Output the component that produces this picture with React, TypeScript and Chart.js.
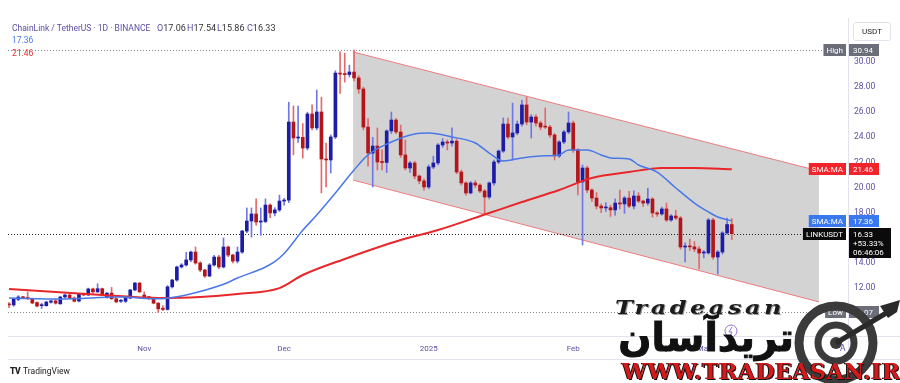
import React, { useEffect, useRef } from "react";
import { Chart, registerables } from "chart.js";
Chart.register(...registerables);

// ---- data ----
const startDate = "2024-10-03";
const opens = [
  10.68, 10.66, 11.1, 11.27, 11.25, 11.15, 10.85, 10.6, 10.6, 10.88, 10.98, 10.75, 11.29, 11.45, 11.21, 10.97, 11.5, 11.45, 11.93, 11.7,
  11.95, 11.3, 11.6, 11.15, 10.95, 10.95, 11.2, 11.85, 12.4, 11.45, 11.32, 11.18, 10.8, 10.4,
  10.3, 12.1, 12.64, 13.68, 13.84, 14.24, 14.87, 14.0, 13.44, 12.96, 13.84, 14.47, 13.68, 15.27, 14.63, 14.15, 14.87, 16.54, 17.34, 17.9,
  17.26, 17.3, 18.61, 17.98, 18.22, 18.93, 19.0, 25.22, 23.95, 24.0, 23.15, 25.86, 24.75, 26.02, 22.28, 22.2, 24.03, 29.12, 29.04, 29.0,
  29.2, 28.73, 27.85, 24.82, 22.75, 23.31, 22.04, 22.0, 24.51, 25.38, 24.43, 22.6, 21.56, 21.96, 20.92, 20.53, 20.05, 21.64, 21.96, 23.39,
  23.63, 23.55, 23.7, 21.24, 20.37, 19.57, 20.37, 20.2, 19.73, 19.25, 20.37, 22.04, 22.91, 25.06, 24.03, 24.35, 25.06, 26.58, 25.22, 25.62,
  25.14, 24.9, 24.82, 24.19, 22.52, 23.63, 24.43, 25.14, 22.99, 20.45, 21.56, 19.81, 19.17, 18.53, 18.38, 18.4, 18.22, 18.77, 18.7, 19.17,
  18.53, 19.33, 18.93, 18.77, 19.09, 17.98, 17.9, 18.3, 17.42, 17.74, 17.58, 15.27, 15.3, 15.28, 15.11, 14.79, 14.8, 17.42, 14.47, 14.87,
  16.39, 17.06,
];
const highs = [
  10.85, 11.2, 11.4, 11.35, 11.69, 11.2, 10.9, 10.8, 10.95, 11.05, 11.1, 11.35, 11.55, 11.5, 11.3, 11.55, 11.6, 12.0, 12.0, 12.35,
  12.0, 11.65, 12.05, 11.2, 11.1, 11.25, 11.9, 12.45, 12.45, 11.7, 11.35, 11.25, 10.85, 10.6,
  12.2, 12.7, 13.75, 13.95, 14.85, 14.95, 15.27, 14.1, 13.5, 13.95, 14.6, 14.6, 15.99, 15.35, 14.7, 15.27, 16.6, 18.38, 18.38, 19.1,
  18.38, 19.1, 18.7, 18.4, 19.4, 19.15, 26.8, 26.5, 26.5, 25.1, 26.0, 26.58, 27.77, 27.2, 23.55, 24.2, 29.3, 30.8, 30.7, 29.75,
  30.94, 28.9, 28.0, 25.5, 24.0, 24.75, 23.0, 24.6, 26.02, 25.5, 24.98, 23.79, 22.1, 22.1, 21.0, 20.7, 21.8, 22.5, 23.5, 23.9,
  23.8, 24.75, 23.85, 21.4, 20.45, 20.5, 20.55, 20.3, 19.85, 20.45, 22.2, 23.0, 25.54, 25.54, 26.73, 25.3, 26.97, 27.2, 25.8, 25.8,
  25.3, 26.34, 24.95, 24.3, 23.75, 24.55, 26.02, 25.3, 23.1, 21.8, 21.7, 19.9, 19.6, 18.7, 18.8, 18.6, 19.1, 19.8, 19.3, 19.7,
  19.75, 19.6, 19.0, 19.95, 19.2, 18.1, 18.45, 18.77, 17.85, 18.2, 17.7, 15.6, 15.9, 15.7, 15.3, 15.0, 17.55, 17.55, 15.0, 16.5,
  17.58, 17.54,
];
const lows = [
  10.45, 10.55, 11.0, 11.15, 11.1, 10.75, 10.5, 10.38, 10.55, 10.8, 10.72, 10.7, 11.2, 11.15, 10.9, 10.9, 11.4, 11.4, 11.6, 11.65,
  11.4, 11.2, 11.1, 10.85, 10.85, 10.85, 11.15, 11.8, 11.65, 11.2, 11.1, 10.75, 10.07, 10.2,
  10.25, 12.0, 12.55, 13.6, 13.75, 14.1, 13.9, 13.3, 12.85, 12.9, 13.75, 13.55, 13.6, 14.5, 14.0, 14.0, 14.75, 16.4, 16.05, 17.0,
  16.2, 17.2, 17.6, 17.75, 18.1, 18.6, 18.8, 22.6, 23.6, 22.35, 23.0, 24.6, 24.6, 19.57, 20.05, 21.16, 23.9, 27.5, 28.4, 28.8,
  28.5, 27.5, 24.6, 21.7, 20.05, 21.4, 21.4, 21.2, 24.3, 24.3, 22.4, 21.4, 21.2, 20.7, 20.3, 19.8, 19.9, 21.5, 21.8, 23.2,
  23.0, 23.3, 21.1, 20.2, 19.4, 19.5, 20.0, 19.6, 17.9, 19.1, 20.2, 21.9, 22.8, 23.9, 22.2, 24.2, 24.9, 25.0, 23.95, 24.9,
  24.6, 24.7, 24.0, 22.2, 22.4, 23.5, 24.3, 22.8, 19.41, 15.43, 19.6, 18.9, 18.3, 18.0, 18.1, 17.7, 17.8, 18.3, 17.95, 18.4,
  18.3, 18.8, 18.5, 18.6, 17.65, 17.7, 17.8, 17.3, 17.3, 17.45, 15.1, 14.08, 15.0, 14.9, 13.52, 14.4, 14.7, 14.3, 13.12, 14.7,
  16.3, 15.86,
];
const closes = [
  10.66, 11.13, 11.29, 11.23, 11.15, 10.81, 10.57, 10.62, 10.89, 10.98, 10.8, 11.29, 11.45, 11.21, 10.95, 11.5, 11.45, 11.93, 11.7, 11.95,
  11.45, 11.6, 11.15, 10.9, 10.98, 11.2, 11.85, 12.4, 11.7, 11.32, 11.18, 10.8, 10.35, 10.3,
  12.1, 12.64, 13.68, 13.84, 14.24, 14.87, 14.0, 13.44, 12.96, 13.84, 14.47, 13.68, 15.27, 14.63, 14.15, 14.87, 16.54, 17.34, 17.9, 17.26,
  17.3, 18.61, 17.98, 18.22, 18.93, 19.0, 25.22, 23.95, 24.0, 23.15, 25.86, 24.75, 26.02, 22.28, 22.2, 24.03, 29.12, 29.04, 29.0, 29.2,
  28.73, 27.85, 24.82, 22.75, 23.31, 22.04, 22.0, 24.51, 25.38, 24.43, 22.6, 21.56, 21.96, 20.92, 20.53, 20.05, 21.64, 21.96, 23.39, 23.63,
  23.55, 23.7, 21.24, 20.37, 19.57, 20.37, 20.2, 19.73, 19.25, 20.37, 22.04, 22.91, 25.06, 24.03, 24.35, 25.06, 26.58, 25.22, 25.62, 25.14,
  24.82, 24.82, 24.19, 22.52, 23.63, 24.43, 25.14, 22.99, 20.45, 21.56, 19.81, 19.17, 18.53, 18.38, 18.4, 18.22, 18.77, 18.7, 19.17, 18.53,
  19.33, 18.93, 18.77, 19.09, 17.98, 17.9, 18.3, 17.42, 17.74, 17.58, 15.27, 15.3, 15.28, 15.11, 14.79, 14.8, 17.42, 14.47, 14.87, 16.39,
  17.06, 16.33,
];

// SMA values at given candle indexes
const sma20At = [0, 11, 24, 32, 34, 38, 46, 49, 55, 57, 59, 63, 66, 70, 74, 77, 82, 87, 90, 95, 100, 103, 106, 110, 114, 118, 120, 124, 127, 129, 133, 135, 139, 143, 147, 150, 152, 155];
const sma20 = [11.21, 11.13, 11.29, 11.15, 11.2, 11.45, 12.3, 12.8, 13.68, 14.1, 14.75, 16.6, 17.82, 19.57, 21.4, 22.6, 23.63, 24.27, 24.35, 24.03, 23.55, 22.75, 22.12, 22.36, 22.52, 22.6, 23.0, 22.99, 22.6, 22.36, 22.28, 21.8, 21.24, 19.97, 18.77, 18.06, 17.66, 17.36];
const sma200At = [0, 20, 32, 41, 49, 58, 63, 72, 84, 92, 103, 110, 118, 125, 133, 140, 147, 155];
const sma200 = [11.93, 11.45, 11.21, 11.29, 11.53, 12.0, 13.04, 14.32, 15.83, 16.62, 17.98, 18.85, 19.81, 20.76, 21.24, 21.56, 21.56, 21.46];

const priceTicks = [10, 12, 14, 16, 18, 20, 22, 24, 26, 28, 30];
const monthNames = ["Jan", "Feb", "Mar", "Apr", "May", "Jun", "Jul", "Aug", "Sep", "Oct", "Nov", "Dec"];

// drawn channel (candle index, price)
const channelX = [73.8, 173.7];
const channelTop = [30.8, 21.32];
const channelBottom = [20.6, 10.9];

const sessionHigh = 30.94;
const sessionLow = 10.07;
const lastPrice = 16.33;
const lastChange = "+53.33%";
const countdown = "06:46:06";
const sma20Last = 17.36;
const sma200Last = 21.46;
const ohlcLabels = ["O", "H", "L", "C"];
const ohlcValues = ["17.06", "17.54", "15.86", "16.33"];

const UP = "#1c1ca6";
const DOWN = "#b3161a";
const UP_WICK = "#6f78e3";
const DOWN_WICK = "#e26a6a";
const AXIS_TEXT = "#5b4fa3";
const FONT = "Roboto, 'Open Sans', sans-serif";

function buildDates(): Date[] {
  const s = new Date(startDate + "T00:00:00Z");
  return opens.map((_, i) => new Date(s.getTime() + i * 86400000));
}

const overlayPlugin = {
  id: "tvOverlay",
  beforeDatasetsDraw(chart: any) {
    const { ctx, chartArea, scales } = chart;
    const xs = scales.x, ys = scales.y;
    ctx.save();
    const x1 = xs.getPixelForValue(channelX[0]);
    const x2 = xs.getPixelForValue(channelX[1]);
    const t1 = ys.getPixelForValue(channelTop[0]);
    const t2 = ys.getPixelForValue(channelTop[1]);
    const b1 = ys.getPixelForValue(channelBottom[0]);
    const b2 = ys.getPixelForValue(channelBottom[1]);
    ctx.beginPath();
    ctx.moveTo(x1, t1); ctx.lineTo(x2, t2); ctx.lineTo(x2, b2); ctx.lineTo(x1, b1); ctx.closePath();
    ctx.fillStyle = "rgba(150,150,150,0.42)";
    ctx.fill();
    ctx.strokeStyle = "#ee7b7b";
    ctx.lineWidth = 1;
    ctx.beginPath(); ctx.moveTo(x1, t1); ctx.lineTo(x2, t2); ctx.stroke();
    ctx.beginPath(); ctx.moveTo(x1, b1); ctx.lineTo(x2, b2); ctx.stroke();
    const dotted = (v: number, color: string) => {
      const y = Math.round(ys.getPixelForValue(v)) + 0.5;
      ctx.beginPath();
      ctx.setLineDash([1, 2]);
      ctx.strokeStyle = color;
      ctx.moveTo(chartArea.left, y); ctx.lineTo(chartArea.right, y);
      ctx.stroke();
      ctx.setLineDash([]);
    };
    dotted(sessionHigh, "#8a8a8a");
    dotted(sessionLow, "#8a8a8a");
    dotted(lastPrice, "#222");
    ctx.restore();
  },
  afterDraw(chart: any) {
    const { ctx, chartArea, scales } = chart;
    const ys = scales.y;
    ctx.save();
    ctx.strokeStyle = "#e3e1ee";
    ctx.lineWidth = 1;
    ctx.beginPath();
    ctx.moveTo(chartArea.left, 359.5); ctx.lineTo(900, 359.5);
    ctx.moveTo(chartArea.right + 0.5, 18); ctx.lineTo(chartArea.right + 0.5, 359.5);
    ctx.moveTo(chartArea.left, chartArea.bottom + 0.5); ctx.lineTo(900, chartArea.bottom + 0.5);
    ctx.stroke();

    ctx.font = `8px ${FONT}`;
    ctx.textBaseline = "middle";
    const leftTag = (text: string, v: number, bg: string) => {
      const y = Math.round(ys.getPixelForValue(v));
      const w = ctx.measureText(text).width + 6;
      ctx.fillStyle = bg;
      ctx.fillRect(chartArea.right - 2 - w, y - 6, w, 12);
      ctx.fillStyle = "#fff";
      ctx.textAlign = "left";
      ctx.fillText(text, chartArea.right - 2 - w + 3, y + 0.5);
    };
    const axisBox = (text: string, v: number, bg: string) => {
      const y = Math.round(ys.getPixelForValue(v));
      ctx.fillStyle = bg;
      ctx.fillRect(chartArea.right + 1, y - 6, 30, 12);
      ctx.fillStyle = "#fff";
      ctx.textAlign = "left";
      ctx.fillText(text, chartArea.right + 5, y + 0.5);
    };
    leftTag("High", sessionHigh, "#6b6e78");
    axisBox(sessionHigh.toFixed(2), sessionHigh, "#6b6e78");
    leftTag("Low", sessionLow, "#6b6e78");
    axisBox(sessionLow.toFixed(2), sessionLow, "#6b6e78");
    leftTag("SMA:MA", sma200Last, "#f2232b");
    axisBox(sma200Last.toFixed(2), sma200Last, "#f2232b");
    leftTag("SMA:MA", sma20Last, "#3a78f2");
    axisBox(sma20Last.toFixed(2), sma20Last, "#3a78f2");
    const yl = Math.round(ys.getPixelForValue(lastPrice));
    leftTag("LINKUSDT", lastPrice, "#0b0b0b");
    ctx.fillStyle = "#0b0b0b";
    ctx.fillRect(chartArea.right + 1, yl - 6, 42, 30);
    ctx.fillStyle = "#fff";
    ctx.textAlign = "left";
    ctx.fillText(lastPrice.toFixed(2), chartArea.right + 5, yl + 0.5);
    ctx.fillText(lastChange, chartArea.right + 5, yl + 9.5);
    ctx.fillText(countdown, chartArea.right + 5, yl + 18.5);
    ctx.restore();
  },
};

export default function App() {
  const ref = useRef<HTMLCanvasElement | null>(null);
  useEffect(() => {
    if (!ref.current) return;
    const dates = buildDates();
    const monthStarts: number[] = [];
    const monthLabels: Record<number, string> = {};
    dates.forEach((d, i) => {
      if (d.getUTCDate() === 1) {
        monthStarts.push(i);
        monthLabels[i] = d.getUTCMonth() === 0 ? String(d.getUTCFullYear()) : monthNames[d.getUTCMonth()];
      }
    });
    const up = closes.map((c, i) => c >= opens[i]);
    const chart = new Chart(ref.current, {
      type: "bar",
      data: {
        datasets: [
          {
            type: "line",
            label: "SMA 20",
            data: sma20At.map((i, k) => ({ x: i, y: sma20[k] })),
            borderColor: "#4a78e8",
            borderWidth: 1.5,
            pointRadius: 0,
            cubicInterpolationMode: "monotone",
          } as any,
          {
            type: "line",
            label: "SMA 200",
            data: sma200At.map((i, k) => ({ x: i, y: sma200[k] })),
            borderColor: "#e8272b",
            borderWidth: 2,
            pointRadius: 0,
            cubicInterpolationMode: "monotone",
          } as any,
          {
            label: "body",
            data: opens.map((o, i) => ({ x: i, y: [o, closes[i]] })),
            backgroundColor: up.map((u) => (u ? UP : DOWN)),
            barThickness: 3,
            minBarLength: 1,
            grouped: false,
          } as any,
          {
            label: "wick",
            data: lows.map((l, i) => ({ x: i, y: [l, highs[i]] })),
            backgroundColor: up.map((u) => (u ? UP_WICK : DOWN_WICK)),
            barThickness: 1,
            grouped: false,
          } as any,
        ],
      },
      options: {
        responsive: false,
        animation: false,
        events: [],
        layout: { padding: { top: 18, left: 8, right: 0, bottom: 22 } },
        plugins: { legend: { display: false }, tooltip: { enabled: false } },
        scales: {
          x: {
            type: "linear",
            offset: false,
            min: -0.2145,
            max: 179.93,
            grid: { display: false, drawTicks: false },
            border: { display: true, color: "#e3e1ee" },
            afterBuildTicks: (s: any) => {
              s.ticks = monthStarts.map((v) => ({ value: v }));
            },
            afterFit: (s: any) => {
              s.height = 25;
            },
            ticks: {
              autoSkip: false,
              maxRotation: 0,
              padding: 8,
              color: AXIS_TEXT,
              font: { size: 8, family: FONT },
              callback: (v: any) => monthLabels[v] ?? "",
            },
          },
          y: {
            type: "linear",
            position: "right",
            min: 8.185,
            max: 33.503,
            grid: { display: false, drawTicks: false },
            border: { display: false },
            afterBuildTicks: (s: any) => {
              s.ticks = priceTicks.map((v) => ({ value: v }));
            },
            afterFit: (s: any) => {
              s.width = 52;
            },
            ticks: {
              padding: 6,
              color: AXIS_TEXT,
              font: { size: 8.5, family: FONT },
              callback: (v: any) => Number(v).toFixed(2),
            },
          },
        },
      } as any,
      plugins: [overlayPlugin],
    });
    return () => chart.destroy();
  }, []);

  const txt: React.CSSProperties = { position: "absolute", fontFamily: FONT, fontSize: 8.5, whiteSpace: "nowrap", lineHeight: "10px" };
  return (
    <div style={{ position: "fixed", left: 0, top: 0, width: 900, height: 383, background: "#fff", overflow: "hidden" }}>
      <canvas ref={ref} width={900} height={383} style={{ display: "block", position: "absolute", left: 0, top: 0 }} />
      {/* legend */}
      <div style={{ ...txt, left: 12, top: 23, color: AXIS_TEXT }}>ChainLink / TetherUS · 1D · BINANCE</div>
      {ohlcLabels.map((l, k) => (
        <div key={l} style={{ ...txt, left: 157 + k * 30, top: 23, color: AXIS_TEXT, fontSize: 9 }}>
          {l}
          <span style={{ color: "#333" }}>{ohlcValues[k]}</span>
        </div>
      ))}
      <div style={{ ...txt, left: 12, top: 35, color: "#4a78e8" }}>17.36</div>
      <div style={{ ...txt, left: 12, top: 48, color: "#e8272b" }}>21.46</div>
      {/* currency box */}
      <div style={{ ...txt, fontSize: 8, left: 853, top: 22, width: 36, height: 17, border: "1px solid #e3e1ee", borderRadius: 3, color: "#222", textAlign: "center", lineHeight: "17px" }}>USDT</div>
      {/* auto button */}
      <div style={{ ...txt, left: 840, top: 343, color: AXIS_TEXT }}>A</div>
      {/* TradingView logo */}
      <div style={{ ...txt, left: 10, top: 366, color: "#222" }}>
        <span style={{ fontWeight: 900, letterSpacing: -0.5, marginRight: 3 }}>TV</span>TradingView
      </div>
      {/* watermark */}
      <svg width={900} height={383} style={{ position: "absolute", left: 0, top: 0 }}>
        <circle cx={731} cy={331} r={6} fill="none" stroke="#9b6fd6" strokeWidth={1} />
        <path d="M732 327 L729 332 L732 332 L730 336" fill="none" stroke="#9b6fd6" strokeWidth={1} />
        <circle cx={836} cy={343} r={37} fill="none" stroke="#3b3b3b" strokeWidth={9} />
        <circle cx={836} cy={343} r={18} fill="none" stroke="#3b3b3b" strokeWidth={7} />
        <circle cx={836} cy={343} r={6} fill="#3b3b3b" />
        <line x1={836} y1={343} x2={888} y2={312} stroke="#2a2a2a" strokeWidth={5} />
        <path d="M880 306 L900 300 L897 312 L888 318 Z" fill="#2a2a2a" />
      </svg>
      <div style={{ position: "absolute", left: 615, top: 297, fontFamily: "'DejaVu Serif', serif", fontStyle: "italic", fontWeight: 900, fontSize: 24, letterSpacing: 3.5, color: "#1c1c1c", textShadow: "1px 1px 0 #999", transform: "scaleY(0.75)", transformOrigin: "left top", whiteSpace: "nowrap" }}>
        Tradeasan
      </div>
      <div dir="rtl" style={{ position: "absolute", left: 618, top: 316, width: 176, textAlign: "center", fontFamily: "'DejaVu Sans', sans-serif", fontWeight: 700, fontSize: 39, lineHeight: "44px", color: "#111", WebkitTextStroke: "1px #111", whiteSpace: "nowrap" }}>
        تریدآسان
      </div>
      <div style={{ position: "absolute", left: 622, top: 358, fontFamily: "'DejaVu Serif', serif", fontWeight: 900, fontSize: 22, lineHeight: "26px", letterSpacing: 0.5, color: "#d41a1a", textShadow: "1px 1px 0 #111, -1px 0 0 #111", whiteSpace: "nowrap" }}>
        WWW.TRADEASAN.IR
      </div>
    </div>
  );
}
